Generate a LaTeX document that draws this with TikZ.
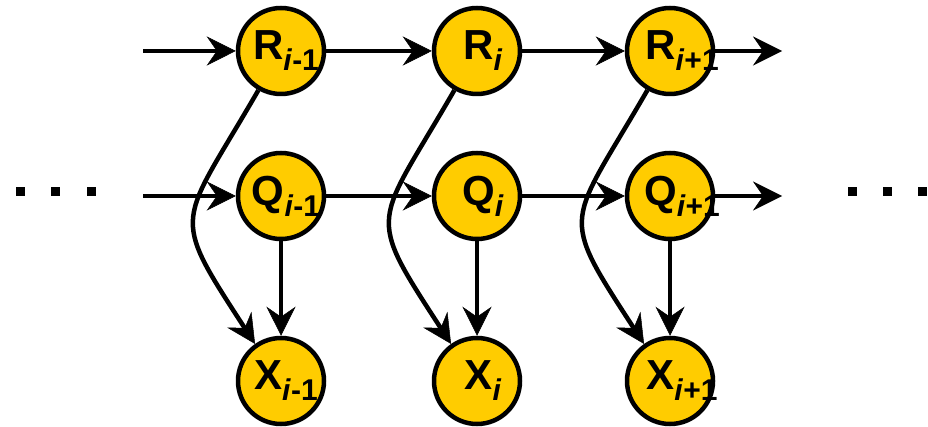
\documentclass[tikz,border=0pt]{standalone}
\usepackage{fontspec}
\setmainfont{Liberation Sans}
\usetikzlibrary{arrows.meta}
\definecolor{gold}{HTML}{FFCC00}
\newcommand{\varlab}[2]{{\fontsize{42}{42}\selectfont\bfseries #1\raisebox{-11pt}{\fontsize{30}{30}\selectfont #2}}}
\begin{document}
\begin{tikzpicture}[x=1pt,y=1pt,line width=4.5pt,
  var/.style={circle,draw=black,fill=gold,minimum size=86pt,inner sep=0pt},
  txt/.style={inner sep=0pt},
  dotbox/.style={rectangle,fill=black,minimum size=9pt,inner sep=0pt},
  arr/.style={-{Stealth[length=29pt,width=29pt,inset=10pt,line width=0.5pt]}}]
\useasboundingbox (0,0) rectangle (928,-427);
% nodes
\foreach \n/\x in {1/281,2/477,3/670}{
  \node[var] (R\n) at (\x,-51) {};
  \node[var] (Q\n) at (\x,-196) {};
  \node[var] (X\n) at (\x,-381) {};
}
\node[txt] (tR1) at (286,-51) {\varlab{R}{\textit{i}-1}};
\node[txt] (tR2) at (483,-51) {\varlab{R}{\textit{i}}};
\node[txt] (tR3) at (682,-51) {\varlab{R}{\textit{i}+1}};
\node[txt] (tQ1) at (286,-196) {\varlab{Q}{\textit{i}-1}};
\node[txt] (tQ2) at (483,-196) {\varlab{Q}{\textit{i}}};
\node[txt] (tQ3) at (682,-196) {\varlab{Q}{\textit{i}+1}};
\node[txt] (tX1) at (286,-381) {\varlab{X}{\textit{i}-1}};
\node[txt] (tX2) at (483,-381) {\varlab{X}{\textit{i}}};
\node[txt] (tX3) at (682,-381) {\varlab{X}{\textit{i}+1}};
% free ends
\coordinate (rin) at (143,-51);
\coordinate (rout) at (782,-51);
\coordinate (qin) at (143,-196);
\coordinate (qout) at (782,-196);
% horizontal arrows
\draw[arr] (rin) -- (R1);
\draw[arr] (R1) -- (R2);
\draw[arr] (R2) -- (R3);
\draw[arr] (R3) -- (rout);
\draw[arr] (qin) -- (Q1);
\draw[arr] (Q1) -- (Q2);
\draw[arr] (Q2) -- (Q3);
\draw[arr] (Q3) -- (qout);
% vertical and curved arrows
\foreach \n in {1,2,3}{
  \draw[arr] (Q\n) -- (X\n);
  \draw[arr] (R\n.240) to[out=240,in=123,looseness=1.6] (X\n.125);
}
% dots
\node[dotbox] (dl1) at (20,-192) {};
\node[dotbox] (dl2) at (55,-192) {};
\node[dotbox] (dl3) at (91,-192) {};
\node[dotbox] (dr1) at (852,-192) {};
\node[dotbox] (dr2) at (887,-192) {};
\node[dotbox] (dr3) at (922,-192) {};
\end{tikzpicture}
\end{document}
